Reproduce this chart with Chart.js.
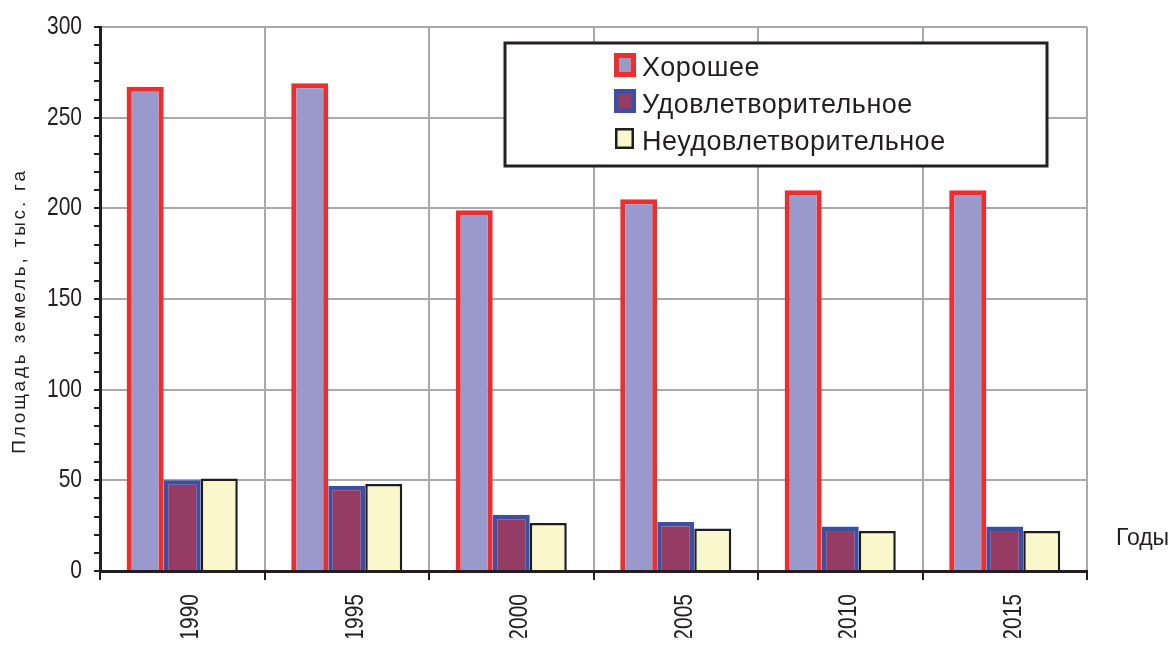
<!DOCTYPE html>
<html>
<head>
<meta charset="utf-8">
<script src="https://cdn.jsdelivr.net/npm/chart.js@4.4.1/dist/chart.umd.min.js"></script>
<style>
  html, body { margin: 0; padding: 0; background: #ffffff; }
  canvas { display: block; }
</style>
</head>
<body>
<canvas id="chart" width="1174" height="646"></canvas>
<script>
// Land condition by year, thousand hectares
const years = ['1990', '1995', '2000', '2005', '2010', '2015'];
const goodArea = [267, 269, 199, 205, 210, 210];
const fairArea = [50, 47, 31, 27, 24.5, 24.5];
const poorArea = [51, 48, 26.5, 23.5, 22, 22];
const seriesNames = ['Хорошее', 'Удовлетворительное', 'Неудовлетворительное'];
const yTitle = 'Площадь земель, тыс. га';
const xTitle = 'Годы';
const yMax = 300;
const yMinorStep = 10;
const yLabelStep = 50;

const FONT = '"Liberation Sans", Arial, sans-serif';
const INK = '#231f20';
const GRID = '#a7a9ac';
const TICK_SQUEEZE = 0.84;   // narrow figures on both axes

const styles = [
  { fill: '#9999cc', stroke: '#ed2e2e', width: 5 },
  { fill: '#943c64', stroke: '#3b50a3', width: 4.5 },
  { fill: '#faf7cd', stroke: '#1e1e1e', width: 2.5 }
];

const seriesValues = [goodArea, fairArea, poorArea];

const datasets = seriesValues.map((vals, i) => ({
  label: seriesNames[i],
  data: vals,
  backgroundColor: styles[i].fill,
  borderColor: styles[i].stroke,
  borderWidth: styles[i].width,
  borderSkipped: 'start',
  categoryPercentage: 0.675,
  barPercentage: 1.0
}));

// Condense tick label text along its reading direction
function narrowTickLabels(scale) {
  if (scale._narrowed) return;
  scale._narrowed = true;
  const base = scale.drawLabels.bind(scale);
  scale.drawLabels = function (area) {
    const ctx = this.ctx;
    const g = this.options.grid, t = this.options.ticks;
    ctx.save();
    if (this.isHorizontal()) {
      const ay = this.top + g.tickLength + t.padding;
      ctx.translate(0, ay);
      ctx.scale(1, TICK_SQUEEZE);
      ctx.translate(0, -ay);
    } else {
      const ax = this.right - g.tickLength - t.padding;
      ctx.translate(ax, 0);
      ctx.scale(TICK_SQUEEZE, 1);
      ctx.translate(-ax, 0);
    }
    base(area);
    ctx.restore();
  };
}

// Boxed legend inside the plot plus the two axis captions
const decorations = {
  id: 'decorations',
  beforeDraw(chart) {
    Object.values(chart.scales).forEach(narrowTickLabels);
  },
  afterDatasetsDraw(chart) {
    const ctx = chart.ctx;
    ctx.save();

    // legend frame
    const bx = 505, by = 43, bw = 542, bh = 123;
    ctx.fillStyle = '#ffffff';
    ctx.fillRect(bx, by, bw, bh);
    ctx.strokeStyle = INK;
    ctx.lineWidth = 3;
    ctx.strokeRect(bx, by, bw, bh);

    const rows = [
      { top: 53, h: 24, x: 614, w: 22, base: 76 },
      { top: 89, h: 24, x: 614, w: 22, base: 113 },
      { top: 128, h: 21, x: 615, w: 19, base: 150 }
    ];
    chart.data.datasets.forEach((ds, i) => {
      const r = rows[i];
      const bwid = ds.borderWidth;
      ctx.fillStyle = ds.borderColor;
      ctx.fillRect(r.x, r.top, r.w, r.h);
      ctx.fillStyle = ds.backgroundColor;
      ctx.fillRect(r.x + bwid, r.top + bwid, r.w - 2 * bwid, r.h - 2 * bwid);
      ctx.fillStyle = INK;
      ctx.font = '27px ' + FONT;
      ctx.letterSpacing = '0.5px';
      ctx.textAlign = 'left';
      ctx.textBaseline = 'alphabetic';
      ctx.fillText(ds.label, 642, r.base);
    });

    // y axis caption, rotated
    ctx.save();
    ctx.translate(25, 311);
    ctx.rotate(-Math.PI / 2);
    ctx.font = '19px ' + FONT;
    ctx.letterSpacing = '2.8px';
    ctx.textAlign = 'center';
    ctx.textBaseline = 'alphabetic';
    ctx.fillStyle = INK;
    ctx.fillText(yTitle, 0, 0);
    ctx.restore();

    // x axis caption at the right end
    ctx.font = '23px ' + FONT;
    ctx.letterSpacing = '0px';
    ctx.textAlign = 'left';
    ctx.textBaseline = 'alphabetic';
    ctx.fillStyle = INK;
    ctx.fillText(xTitle, 1116, 545);

    ctx.restore();
  }
};

new Chart(document.getElementById('chart'), {
  type: 'bar',
  data: { labels: years, datasets },
  plugins: [decorations],
  options: {
    responsive: false,
    animation: false,
    devicePixelRatio: 1,
    layout: { padding: { left: 0, top: 27, right: 87, bottom: 0 } },
    plugins: {
      legend: { display: false },
      tooltip: { enabled: false }
    },
    scales: {
      x: {
        offset: true,
        grid: {
          offset: true,
          color: GRID,
          lineWidth: 2,
          tickColor: INK,
          tickLength: 9,
          tickWidth: 2
        },
        border: { color: INK, width: 3 },
        ticks: {
          minRotation: 90,
          maxRotation: 90,
          padding: 14,
          labelOffset: 9,
          color: INK,
          font: { family: FONT, size: 25 }
        },
        afterFit(scale) { scale.height = 75; }
      },
      y: {
        min: 0,
        max: yMax,
        grid: {
          color: (c) => (c.tick && c.tick.value % yLabelStep === 0) ? GRID : 'rgba(0,0,0,0)',
          lineWidth: 2,
          tickColor: INK,
          tickLength: 6,
          tickWidth: 2
        },
        border: { color: INK, width: 3 },
        ticks: {
          stepSize: yMinorStep,
          autoSkip: false,
          padding: 12,
          color: INK,
          font: { family: FONT, size: 25 },
          callback: (v) => (v % yLabelStep === 0 ? String(v) : '')
        },
        afterFit(scale) { scale.width = 100; }
      }
    }
  }
});
</script>
</body>
</html>
